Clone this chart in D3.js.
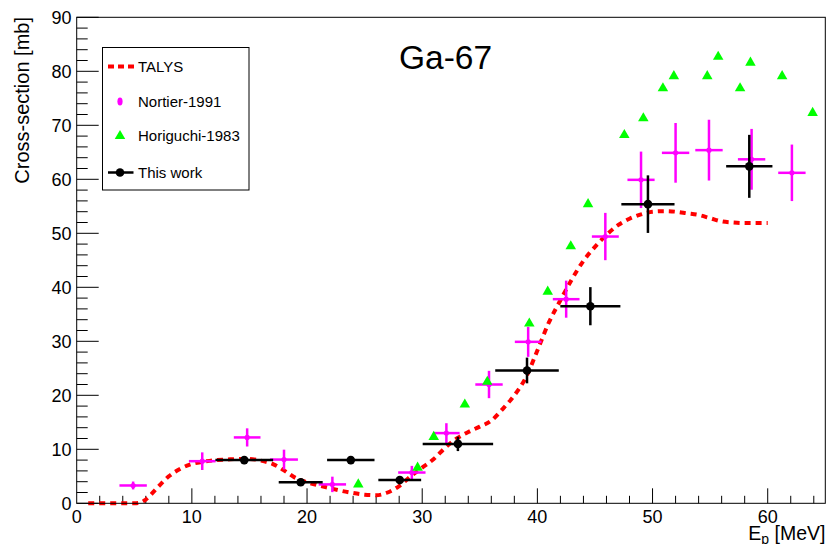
<!DOCTYPE html>
<html>
<head>
<meta charset="utf-8">
<script src="https://cdn.jsdelivr.net/npm/d3@7"></script>
<style>
  body { margin: 0; background: #fff; }
  svg text { font-family: "Liberation Sans", Arial, Helvetica, sans-serif; }
</style>
</head>
<body>
<svg id="chart" width="827" height="544"></svg>
<script>
// TALYS calculation (red dotted curve).
var talysE = [1, 2, 3, 4, 5, 5.5, 6, 7, 8, 9, 10, 11, 12, 13, 14, 15, 16, 17, 18, 19, 20,
  21, 22, 23, 24, 25, 26, 27, 28, 29, 30, 31, 32, 33, 34, 35, 36, 37, 38, 39, 40,
  41, 42, 43, 44, 45, 46, 47, 48, 49, 50, 51, 52, 53, 54, 55, 56, 57, 58, 59, 60];
var talysXS = [0, 0, 0, 0, 0, 0.1, 0.7, 2.9, 5.0, 6.4, 7.3, 7.7, 8.0, 8.1, 8.2, 8.2, 7.9, 7.3, 6.1, 4.7, 3.9,
  3.3, 2.8, 2.3, 1.9, 1.6, 1.5, 2.0, 3.2, 5.0, 6.6, 8.2, 10.3, 12.0, 13.2, 14.2, 15.3, 17.5, 20.0, 23.3, 28.3,
  33.5, 37.6, 41.5, 44.9, 47.5, 49.7, 51.5, 52.7, 53.5, 54.0, 54.1, 54.0, 53.7, 53.4, 52.8, 52.2, 52.0, 51.9, 51.9, 51.9];

// Nortier-1991 (magenta, x and y errors).
var nortierE = [4.9, 10.9, 14.8, 18.0, 22.2, 29.1, 32.1, 35.8, 39.2, 42.5, 45.9, 49.0, 52.0, 54.9, 58.6, 62.1];
var nortierXS = [3.3, 7.8, 12.2, 8.1, 3.5, 5.7, 13.0, 22.0, 29.9, 37.8, 49.4, 59.9, 64.9, 65.4, 63.7, 61.2];
var nortierDE = [1.08, 1.05, 1.05, 1.1, 1.08, 1.08, 1.04, 1.08, 1.05, 1.05, 1.06, 1.07, 1.08, 1.08, 1.08, 1.08];
var nortierDXS = [0.5, 1.4, 1.45, 1.6, 1.2, 1.0, 1.6, 2.3, 2.55, 3.2, 4.15, 5.0, 5.3, 5.4, 5.4, 5.0];

// Horiguchi-1983 (green triangles).
var horiguchiE = [24.45, 29.6, 31.0, 33.7, 35.65, 39.3, 40.9, 42.9, 44.4, 47.55, 49.2, 50.9, 51.85, 54.75, 55.7, 57.6, 58.5, 61.25, 63.9];
var horiguchiXS = [3.5, 6.6, 12.3, 18.3, 22.5, 33.3, 39.2, 47.6, 55.4, 68.2, 71.3, 76.85, 79.1, 79.1, 82.7, 76.85, 81.6, 79.1, 72.3];

// This work (black points).
var thisE = [14.55, 19.45, 23.8, 28.05, 33.1, 39.1, 44.6, 49.6, 58.4];
var thisXS = [8.0, 3.9, 8.0, 4.3, 11.0, 24.6, 36.5, 55.4, 62.4];
var thisDE = [2.4, 1.8, 1.95, 1.75, 2.95, 2.65, 2.5, 2.2, 1.9];
var thisDXS = [0.5, 0.4, 0.5, 0.4, 1.1, 2.15, 3.3, 5.1, 5.6];

var xTicks = [0, 10, 20, 30, 40, 50, 60];
var yTicks = [0, 10, 20, 30, 40, 50, 60, 70, 80, 90];

var svg = d3.select("#chart");
svg.append("rect").attr("width", 827).attr("height", 544).attr("fill", "#fff");

var frame = { left: 76.7, right: 825.3, top: 17.3, bottom: 503.3 };
var x = d3.scaleLinear().domain([0, 65]).range([frame.left, frame.right]);
var y = d3.scaleLinear().domain([0, 90]).range([frame.bottom, frame.top]);

// Ticks (pointing inside, ROOT style).
var g = svg.append("g");
d3.range(0, 65.01, 2).forEach(function (v) {
  var major = v % 10 === 0;
  if (v === 0) return;
  g.append("line")
    .attr("x1", x(v)).attr("x2", x(v))
    .attr("y1", frame.bottom).attr("y2", frame.bottom - (major ? 15 : 7.5))
    .attr("stroke", "#000").attr("stroke-width", 1);
});
d3.range(0, 90.01, 2).forEach(function (v) {
  var major = v % 10 === 0;
  g.append("line")
    .attr("x1", frame.left).attr("x2", frame.left + (major ? 22 : 11))
    .attr("y1", y(v)).attr("y2", y(v))
    .attr("stroke", "#000").attr("stroke-width", 1);
});

// Tick labels.
g.selectAll(".xl").data(xTicks).enter().append("text")
  .attr("x", d => x(d)).attr("y", 523)
  .attr("text-anchor", "middle").attr("font-size", 18)
  .text(d => d);
g.selectAll(".yl").data(yTicks).enter().append("text")
  .attr("x", 71.5).attr("y", d => y(d) + 6.3)
  .attr("text-anchor", "end").attr("font-size", 18)
  .text(d => d);

// Axis titles.
svg.append("text")
  .attr("transform", "translate(28.5,17) rotate(-90)")
  .attr("text-anchor", "end").attr("font-size", 20)
  .text("Cross-section [mb]");
var xt = svg.append("text")
  .attr("x", 825.5).attr("y", 540)
  .attr("text-anchor", "end").attr("font-size", 19.5);
xt.append("tspan").text("E");
xt.append("tspan").attr("font-size", 14).attr("dy", 4).text("p");
xt.append("tspan").attr("dy", -4).text(" [MeV]");

// Title.
svg.append("text")
  .attr("x", 399).attr("y", 69)
  .attr("font-size", 33.5)
  .text("Ga-67");

// TALYS curve.
var line = d3.line()
  .x((d, i) => x(talysE[i]))
  .y(d => y(d))
  .curve(d3.curveMonotoneX);
svg.append("path")
  .datum(talysXS)
  .attr("d", line)
  .attr("fill", "none")
  .attr("stroke", "#ff0000")
  .attr("stroke-width", 4)
  .attr("stroke-dasharray", "6,5");

// Error-bar helper.
function errorBars(E, XS, DE, DXS, color) {
  var eg = svg.append("g").attr("stroke", color).attr("stroke-width", 2.5).attr("stroke-linecap", "square");
  E.forEach(function (e, i) {
    eg.append("line")
      .attr("x1", x(e - DE[i])).attr("x2", x(e + DE[i]))
      .attr("y1", y(XS[i])).attr("y2", y(XS[i]));
    eg.append("line")
      .attr("x1", x(e)).attr("x2", x(e))
      .attr("y1", y(XS[i] - DXS[i])).attr("y2", y(XS[i] + DXS[i]));
  });
}

// Nortier.
errorBars(nortierE, nortierXS, nortierDE, nortierDXS, "#ff00ff");
svg.append("g").selectAll("circle").data(nortierE).enter().append("circle")
  .attr("cx", d => x(d)).attr("cy", (d, i) => y(nortierXS[i]))
  .attr("r", 2.6).attr("fill", "#ff00ff");

// Horiguchi.
var tri = d3.symbol().type(d3.symbolTriangle).size(48);
svg.append("g").selectAll("path").data(horiguchiE).enter().append("path")
  .attr("d", tri)
  .attr("transform", (d, i) => "translate(" + x(d) + "," + y(horiguchiXS[i]) + ")")
  .attr("fill", "#00ff00");

// This work.
errorBars(thisE, thisXS, thisDE, thisDXS, "#000");
svg.append("g").selectAll("circle").data(thisE).enter().append("circle")
  .attr("cx", d => x(d)).attr("cy", (d, i) => y(thisXS[i]))
  .attr("r", 4.3).attr("fill", "#000");

// Frame.
svg.append("rect")
  .attr("x", frame.left).attr("y", frame.top)
  .attr("width", frame.right - frame.left).attr("height", frame.bottom - frame.top)
  .attr("fill", "none").attr("stroke", "#000").attr("stroke-width", 1);

// Legend.
var lg = svg.append("g");
lg.append("rect")
  .attr("x", 102.5).attr("y", 47.5).attr("width", 146.5).attr("height", 142.5)
  .attr("fill", "#fff").attr("stroke", "#000").attr("stroke-width", 1);
var rows = [66.5, 101.5, 135.5, 172.5];
var labels = ["TALYS", "Nortier-1991", "Horiguchi-1983", "This work"];
lg.selectAll(".lt").data(labels).enter().append("text")
  .attr("x", 138).attr("y", (d, i) => rows[i] + 5.5)
  .attr("font-size", 15)
  .text(d => d);
lg.append("line")
  .attr("x1", 108).attr("x2", 134).attr("y1", rows[0]).attr("y2", rows[0])
  .attr("stroke", "#ff0000").attr("stroke-width", 4).attr("stroke-dasharray", "6,4");
lg.append("ellipse")
  .attr("cx", 120).attr("cy", rows[1]).attr("rx", 2.6).attr("ry", 4)
  .attr("fill", "#ff00ff");
lg.append("path")
  .attr("d", tri)
  .attr("transform", "translate(120," + (rows[2] + 0.5) + ")")
  .attr("fill", "#00ff00");
lg.append("line")
  .attr("x1", 108).attr("x2", 133.5).attr("y1", rows[3]).attr("y2", rows[3])
  .attr("stroke", "#000").attr("stroke-width", 2.5);
lg.append("circle")
  .attr("cx", 120).attr("cy", rows[3]).attr("r", 4.3).attr("fill", "#000");
</script>
</body>
</html>
